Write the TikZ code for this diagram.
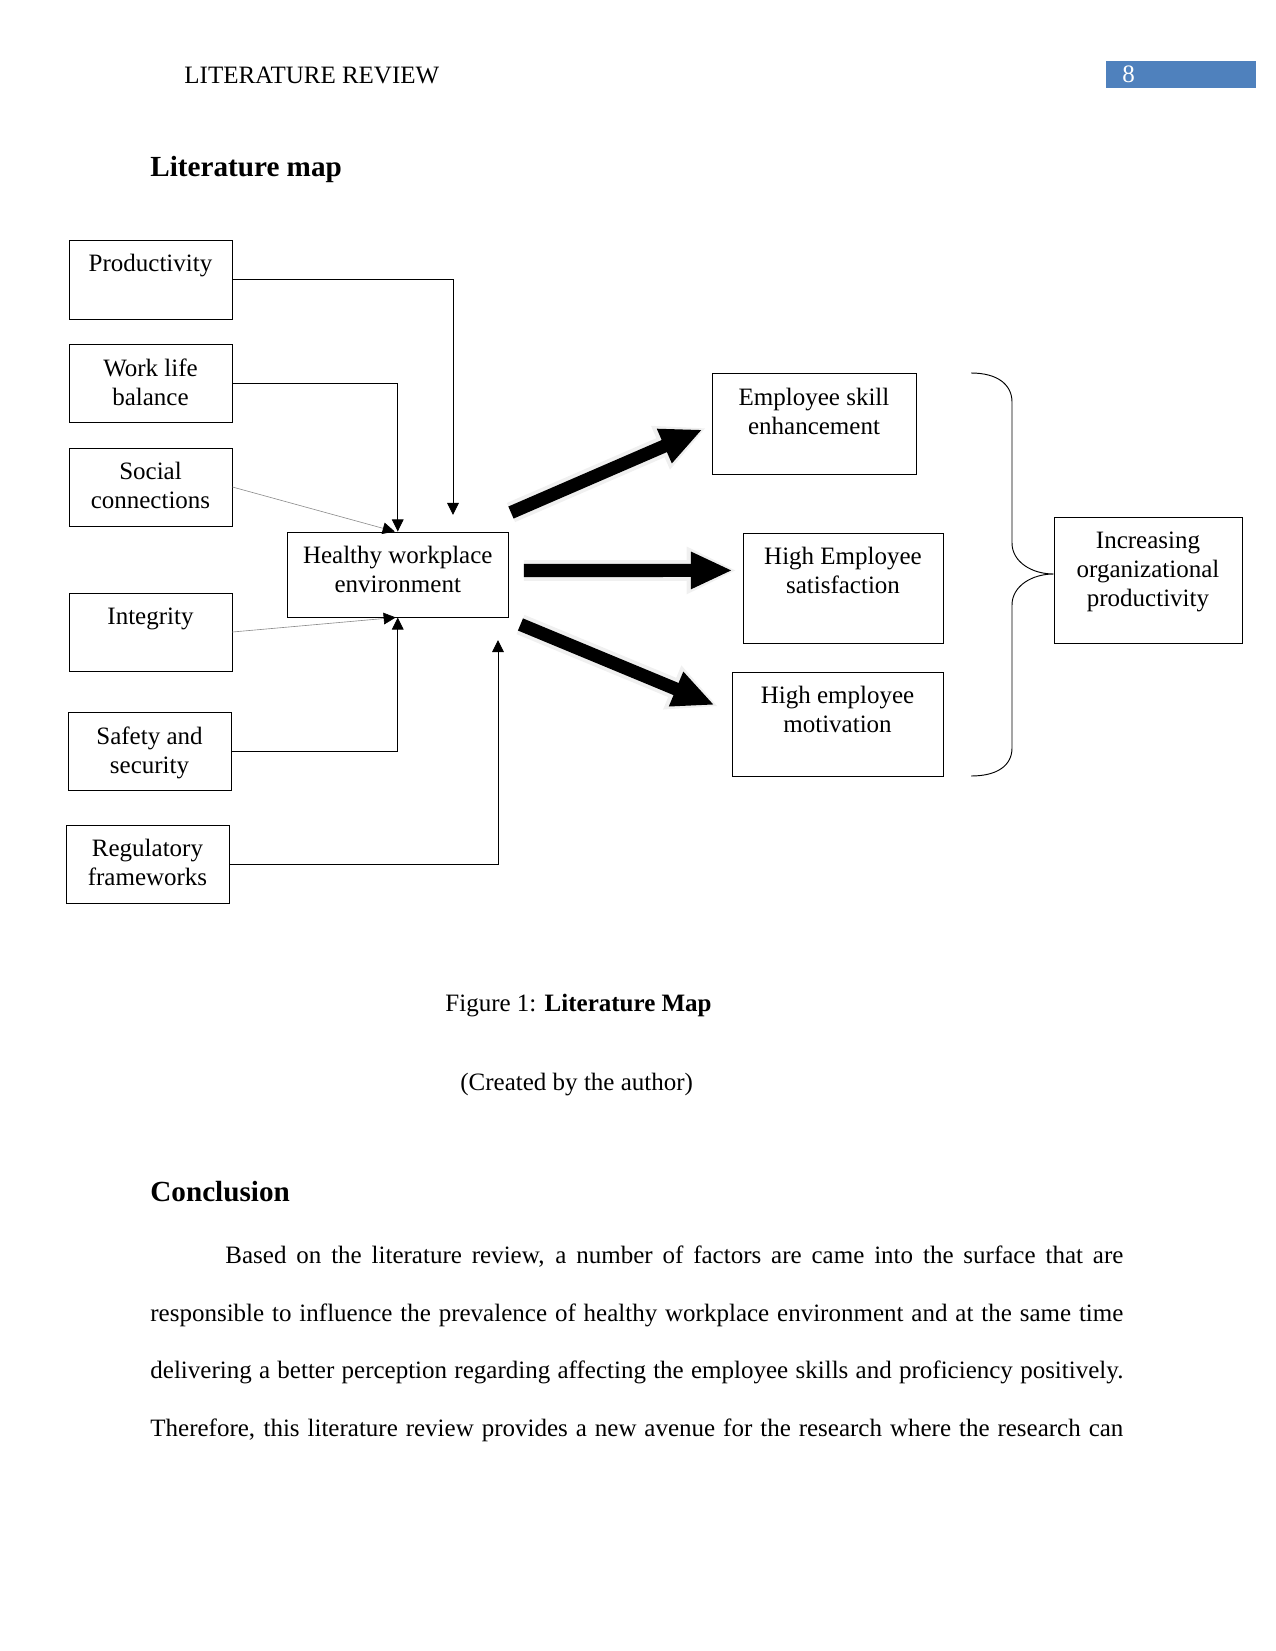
\documentclass[tikz,border=0pt]{standalone}
\usepackage{fontspec}
\setmainfont{Liberation Serif}
\usetikzlibrary{arrows.meta,positioning,fit}
\definecolor{pageblue}{RGB}{79,129,189}
\tikzset{
  factor/.style={draw,line width=0.45pt,inner sep=0pt},
  factortext/.style={align=center,inner sep=0pt},
  pagetext/.style={anchor=base west,inner sep=0pt},
  heading/.style={pagetext,font=\fontsize{14}{16}\selectfont\bfseries},
  feed/.style={line width=0.45pt,-{Triangle[length=5.8pt,width=5.6pt]}},
  faint/.style={draw=black!45,line width=0.3pt,-{Triangle[length=5.8pt,width=5.6pt,color=black]}},
  bigarrow/.style={line width=6.3pt,-{Triangle[length=20pt,width=16.5pt]},
    preaction={draw=black!6,line width=10pt,shorten >=-2pt,-{Triangle[length=24pt,width=21pt]}}}
}
\begin{document}
\begin{tikzpicture}[x=0.48pt,y=-0.48pt,font=\fontsize{12}{13.9}\selectfont]
\useasboundingbox (0,0) rectangle (1275,1651);

% page header and title
\node[pagetext] (hdr) at (184,83.3) {LITERATURE REVIEW};
\node[fill=pageblue,inner sep=0pt,fit={(1106,61) (1256,88)}] (pgbox) {};
\node[pagetext,text=white] (pgno) at (1122,82.7) {8};
\node[heading] (maphead) at (150,176.7) {Literature map};

% factors on the left
\node[factor,fit={(69,240) (232,319)}] (prod) {};
\node[factortext,below=7pt of prod.north] (prod-t) {Productivity};
\node[factor,fit={(69,344) (232,422)}] (wlb) {};
\node[factortext,below=7pt of wlb.north] (wlb-t) {Work life\\balance};
\node[factor,fit={(69,448) (232,526)}] (soc) {};
\node[factortext,below=7pt of soc.north] (soc-t) {Social\\connections};
\node[factor,fit={(69,593) (232,671)}] (integ) {};
\node[factortext,below=7pt of integ.north] (integ-t) {Integrity};
\node[factor,fit={(68,712) (231,790)}] (safe) {};
\node[factortext,below=7pt of safe.north] (safe-t) {Safety and\\security};
\node[factor,fit={(66,825) (229,903)}] (reg) {};
\node[factortext,below=7pt of reg.north] (reg-t) {Regulatory\\frameworks};

% centre
\node[factor,fit={(287,532) (508.5,617)}] (hwe) {};
\node[factortext,below=7pt of hwe.north] (hwe-t) {Healthy workplace\\environment};

% outcomes
\node[factor,fit={(712,373) (916,474)}] (skill) {};
\node[factortext,below=7.5pt of skill.north] (skill-t) {Employee skill\\enhancement};
\node[factor,fit={(743,533) (943,643)}] (sat) {};
\node[factortext,below=7pt of sat.north] (sat-t) {High Employee\\satisfaction};
\node[factor,fit={(732,672) (943,776)}] (mot) {};
\node[factortext,below=7pt of mot.north] (mot-t) {High employee\\motivation};
\node[factor,fit={(1054,517) (1242,643)}] (inc) {};
\node[factortext,below=7pt of inc.north] (inc-t) {Increasing\\organizational\\productivity};

% thin connectors into the centre
\coordinate (ptip) at (453,515);
\coordinate (rtip) at (498,640);
\draw[feed] (prod.east) -| (ptip);
\draw[feed] (wlb.east) -| (hwe.north);
\draw[faint] (soc.east) -- ([shift={(-3,0)}]hwe.north);
\draw[faint] (integ.east) -- ([shift={(-2,0)}]hwe.south);
\draw[feed] (safe.east) -| (hwe.south);
\draw[feed] (reg.east) -| (rtip);

% block arrows
\draw[bigarrow] ([shift={(2,-19)}]hwe.north east) -- ([shift={(-9,6)}]skill.west);
\draw[bigarrow] ([shift={(15,-4)}]hwe.east) -- ([shift={(-10,-17.6)}]sat.west);
\draw[bigarrow] ([shift={(11.5,7)}]hwe.south east) -- ([shift={(-17,-19)}]mot.west);

% brace
\draw[line width=0.45pt] (971,373) .. controls (998,373) and (1012,385) .. (1012,402) -- (1012,543)
  .. controls (1012,562) and (1032,574) .. ([shift={(0,-6)}]inc.west)
  .. controls (1032,574) and (1012,586) .. (1012,605) -- (1012,748)
  .. controls (1012,765) and (998,776) .. (971,776);

% caption and text
\node[pagetext] (cap) at (445,1011) {Figure 1: \textbf{Literature Map}};
\node[pagetext] (credit) at (460,1090) {(Created by the author)};
\node[heading] (conc) at (150,1201) {Conclusion};
\node[pagetext] (l1) at (225,1263.5) {\makebox[431pt][s]{Based on the literature review, a number of factors are came into the surface that are}};
\node[pagetext] (l2) at (150,1321) {\makebox[467pt][s]{responsible to influence the prevalence of healthy workplace environment and at the same time}};
\node[pagetext] (l3) at (150,1378.5) {\makebox[467pt][s]{delivering a better perception regarding affecting the employee skills and proficiency positively.}};
\node[pagetext] (l4) at (150,1436) {\makebox[467pt][s]{Therefore, this literature review provides a new avenue for the research where the research can}};
\end{tikzpicture}
\end{document}
